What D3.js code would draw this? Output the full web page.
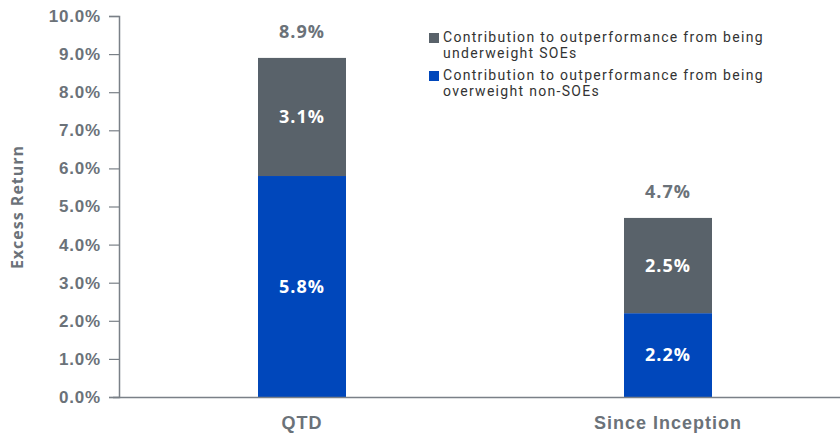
<!DOCTYPE html>
<html>
<head>
<meta charset="utf-8">
<script src="https://cdn.jsdelivr.net/npm/d3@7"></script>
<style>
  body { margin: 0; background: #fff; }
  svg { display: block; font-family: "Open Sans", "DejaVu Sans", sans-serif; }
</style>
</head>
<body>
<div id="chart"></div>
<script>
// chart values
var categories = ["QTD", "Since Inception"];
var nonSoe = [5.8, 2.2];      // overweight non-SOEs (bottom, blue)
var soe = [3.1, 2.5];         // underweight SOEs (top, gray)
var totals = [8.9, 4.7];
var yTicks = [0, 1, 2, 3, 4, 5, 6, 7, 8, 9, 10];
var seriesNames = [
    ["Contribution to outperformance from being", "underweight SOEs"],
    ["Contribution to outperformance from being", "overweight non-SOEs"]
];

var width = 840, height = 439;
var plotLeft = 119, plotTop = 16, plotBottom = 397;
var gray = "#59626a", blue = "#0047bb", textColor = "#6b7279";

var svg = d3.select("#chart").append("svg")
    .attr("width", width)
    .attr("height", height);

var y = d3.scaleLinear().domain([0, 10]).range([plotBottom, plotTop]);
var x = d3.scaleBand().domain(categories).range([plotLeft, 851]).padding(0);
var barW = 88;

// y axis
var yAxis = svg.append("g")
    .attr("transform", "translate(" + plotLeft + ",0)")
    .call(d3.axisLeft(y).tickValues(yTicks).tickSize(10).tickPadding(8)
        .tickFormat(function(d){ return d.toFixed(1) + "%"; }));
yAxis.select(".domain").attr("stroke", "#7a8087").attr("stroke-width", 1.5);
yAxis.selectAll(".tick line").attr("stroke", "#7a8087").attr("stroke-width", 1.2);
yAxis.selectAll(".tick text")
    .attr("fill", textColor)
    .attr("font-size", "17px")
    .attr("font-weight", "bold")
    .attr("letter-spacing", "0.8px");

svg.append("text")
    .attr("transform", "translate(17,207) rotate(-90)")
    .attr("text-anchor", "middle")
    .attr("dy", "0.35em")
    .attr("fill", textColor)
    .attr("font-size", "16px")
    .attr("font-weight", "bold")
    .attr("letter-spacing", "1px")
    .text("Excess Return");

// stacked bars
var stackData = categories.map(function(c, i){ return {cat: c, nonSoe: nonSoe[i], soe: soe[i]}; });
var stacked = d3.stack().keys(["nonSoe", "soe"])(stackData);
var colors = {nonSoe: blue, soe: gray};

stacked.forEach(function(layer){
    svg.selectAll(".bar-" + layer.key)
        .data(layer)
        .enter()
        .append("rect")
            .attr("x", function(d){ return x(d.data.cat) + x.bandwidth() / 2 - barW / 2; })
            .attr("y", function(d){ return y(d[1]); })
            .attr("width", barW)
            .attr("height", function(d){ return y(d[0]) - y(d[1]); })
            .attr("fill", colors[layer.key]);

    svg.selectAll(".lab-" + layer.key)
        .data(layer)
        .enter()
        .append("text")
            .attr("x", function(d){ return x(d.data.cat) + x.bandwidth() / 2; })
            .attr("y", function(d){ return y((d[0] + d[1]) / 2); })
            .attr("dy", "0.35em")
            .attr("text-anchor", "middle")
            .attr("fill", "#fff")
            .attr("font-size", "18px")
            .attr("font-weight", "bold")
            .attr("letter-spacing", "1px")
            .text(function(d){ return (d[1] - d[0]).toFixed(1) + "%"; });
});

// totals
svg.selectAll(".total")
    .data(categories)
    .enter()
    .append("text")
        .attr("x", function(d){ return x(d) + x.bandwidth() / 2; })
        .attr("y", function(d, i){ return y(totals[i]) - 26; })
        .attr("dy", "0.35em")
        .attr("text-anchor", "middle")
        .attr("fill", textColor)
        .attr("font-size", "18px")
        .attr("font-weight", "bold")
        .attr("letter-spacing", "1px")
        .text(function(d, i){ return totals[i].toFixed(1) + "%"; });

// x axis
var xAxis = svg.append("g")
    .attr("transform", "translate(0," + plotBottom + ")")
    .call(d3.axisBottom(x).tickSize(0).tickPadding(19));
xAxis.select(".domain").attr("stroke", "#7a8087").attr("stroke-width", 1.5)
    .attr("d", "M" + (plotLeft - 6) + ",0.5H" + width);
xAxis.selectAll(".tick text")
    .attr("fill", textColor)
    .attr("font-size", "18px")
    .attr("font-weight", "bold")
    .attr("letter-spacing", "1px");

// legend - two lines per entry
var legend = svg.append("g").attr("transform", "translate(429,0)");
var legendColors = [gray, blue];
var legendY = [37, 75];
seriesNames.forEach(function(lines, i){
    legend.append("rect")
        .attr("x", 0)
        .attr("y", legendY[i] - 4)
        .attr("width", 10)
        .attr("height", 10)
        .attr("fill", legendColors[i]);
    lines.forEach(function(t, j){
        legend.append("text")
            .attr("x", 14)
            .attr("y", legendY[i] + j * 16.5)
            .attr("dy", "0.35em")
            .attr("fill", "#333")
            .attr("font-family", "Roboto, sans-serif")
            .attr("font-size", "14px")
            .attr("letter-spacing", "1.3px")
            .text(t);
    });
});
</script>
</body>
</html>
